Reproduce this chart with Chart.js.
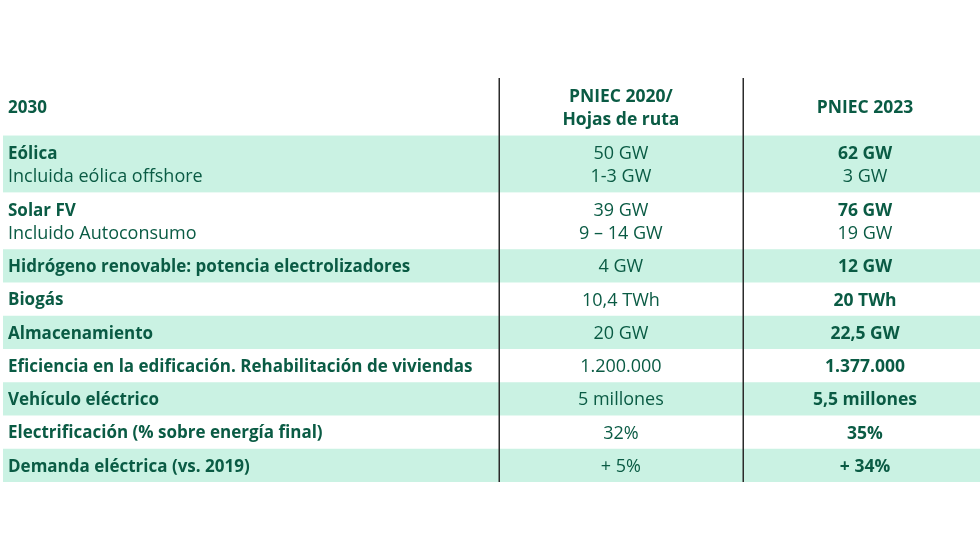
<!DOCTYPE html>
<html>
<head>
<meta charset="utf-8">
<script src="https://cdn.jsdelivr.net/npm/chart.js@4/dist/chart.umd.min.js"></script>
<style>
    html, body { margin: 0; background: #fff; }
    #wrap { width: 980px; height: 560px; }
</style>
</head>
<body>
<div id="wrap"><canvas id="tableChart"></canvas></div>
<script>
    // ─── DATA ───
    const yearLabel = '2030';
    const colHeaders = [['PNIEC 2020/', 'Hojas de ruta'], ['PNIEC 2023']];
    const rowTitles = ['Eólica', 'Solar FV', 'Hidrógeno renovable: potencia electrolizadores', 'Biogás',
        'Almacenamiento', 'Eficiencia en la edificación. Rehabilitación de viviendas', 'Vehículo eléctrico',
        'Electrificación (% sobre energía final)', 'Demanda eléctrica (vs. 2019)'];
    const rowNotes = ['Incluida eólica offshore', 'Incluido Autoconsumo', '', '', '', '', '', '', ''];
    const pniec2020 = ['50 GW', '39 GW', '4 GW', '10,4 TWh', '20 GW', '1.200.000', '5 millones', '32%', '+ 5%'];
    const pniec2020Notes = ['1-3 GW', '9 – 14 GW', '', '', '', '', '', '', ''];
    const pniec2023 = ['62 GW', '76 GW', '12 GW', '20 TWh', '22,5 GW', '1.377.000', '5,5 millones', '35%', '+ 34%'];
    const pniec2023Notes = ['3 GW', '19 GW', '', '', '', '', '', '', ''];

    // ─── LAYOUT (row units on y, table px on x) ───
    const HEADER_H = 1.73;
    const TALL_H = 1.71;
    const colEdges = [0, 495.5, 740.3, 983.7];
    const TEXT = '#0a5b44';
    const BAND = '#caf2e3';
    const FONT = '"Open Sans", sans-serif';
    const LINE_GAP = 23;
    const Y_NUDGE = 1.5;
    const SIZE = { bold: 17.5, normal: 18, title: 17 };

    const rowTops = [];
    let acc = HEADER_H;
    rowTitles.forEach((t, i) => {
        rowTops.push(acc);
        acc += rowNotes[i] ? TALL_H : 1;
    });
    const tableBottom = acc;

    function drawLines(ctx, lines, x, yc, align, weights) {
        const n = lines.length;
        lines.forEach((s, k) => {
            const w = weights[k] === 'normal' ? 'normal' : 'bold';
            ctx.font = w + ' ' + SIZE[weights[k]] + 'px ' + FONT;
            ctx.textAlign = align;
            ctx.fillText(s, x, yc + Y_NUDGE + (k - (n - 1) / 2) * LINE_GAP);
        });
    }

    const tablePlugin = {
        id: 'tableCells',
        beforeDatasetsDraw(chart) {
            const { ctx, scales: { x, y } } = chart;
            ctx.save();
            // bands
            rowTitles.forEach((t, i) => {
                if (i % 2 !== 0) return;
                const top = y.getPixelForValue(rowTops[i]);
                const bot = y.getPixelForValue(rowTops[i] + (rowNotes[i] ? TALL_H : 1));
                ctx.fillStyle = BAND;
                ctx.fillRect(x.getPixelForValue(colEdges[0]), top, x.getPixelForValue(colEdges[3]) - x.getPixelForValue(colEdges[0]), bot - top);
            });
            // dividers
            ctx.strokeStyle = '#2b2b2b';
            ctx.lineWidth = 1.5;
            [colEdges[1], colEdges[2]].forEach(v => {
                const px = Math.round(x.getPixelForValue(v)) + 0.25;
                ctx.beginPath();
                ctx.moveTo(px, y.getPixelForValue(0));
                ctx.lineTo(px, y.getPixelForValue(tableBottom));
                ctx.stroke();
            });
            // text
            ctx.fillStyle = TEXT;
            ctx.textBaseline = 'middle';
            const leftX = x.getPixelForValue(colEdges[0]) + 5;
            const c2 = x.getPixelForValue((colEdges[1] + colEdges[2]) / 2);
            const c3 = x.getPixelForValue((colEdges[2] + colEdges[3]) / 2);
            const hc = y.getPixelForValue(HEADER_H / 2);
            drawLines(ctx, [yearLabel], leftX, hc, 'left', ['title']);
            drawLines(ctx, colHeaders[0], c2, hc, 'center', ['bold', 'bold']);
            drawLines(ctx, colHeaders[1], c3, hc, 'center', ['bold']);
            rowTitles.forEach((t, i) => {
                const h = rowNotes[i] ? TALL_H : 1;
                const yc = y.getPixelForValue(rowTops[i] + h / 2);
                const l1 = rowNotes[i] ? [t, rowNotes[i]] : [t];
                const l2 = pniec2020Notes[i] ? [pniec2020[i], pniec2020Notes[i]] : [pniec2020[i]];
                const l3 = pniec2023Notes[i] ? [pniec2023[i], pniec2023Notes[i]] : [pniec2023[i]];
                drawLines(ctx, l1, leftX, yc, 'left', ['title', 'normal']);
                drawLines(ctx, l2, c2, yc, 'center', ['normal', 'normal']);
                drawLines(ctx, l3, c3, yc, 'center', ['bold', 'normal']);
            });
            ctx.restore();
        }
    };

    new Chart(document.getElementById('tableChart'), {
        type: 'scatter',
        data: { datasets: [{ data: [] }] },
        options: {
            responsive: true,
            maintainAspectRatio: false,
            animation: false,
            layout: { padding: { left: 3, right: 0, top: 78, bottom: 78 } },
            plugins: { legend: { display: false }, tooltip: { enabled: false } },
            scales: {
                x: { type: 'linear', display: false, min: 0, max: 977 },
                y: { type: 'linear', display: false, reverse: true, min: 0, max: tableBottom }
            }
        },
        plugins: [tablePlugin]
    });
</script>
</body>
</html>
